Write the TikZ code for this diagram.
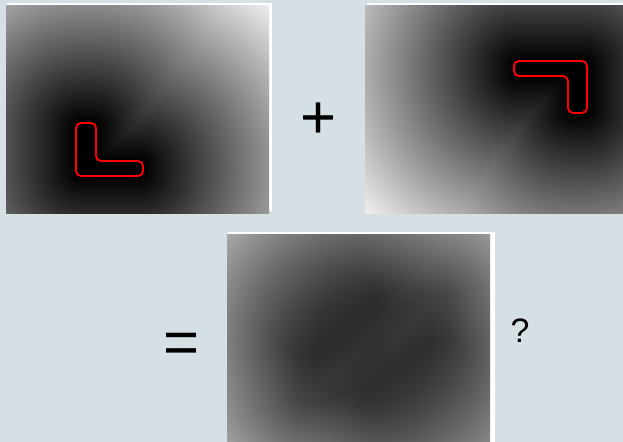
\documentclass[tikz,border=0pt]{standalone}
\usepackage{fontspec}
\setmainfont{Liberation Sans}
\definecolor{bg}{RGB}{214,224,228}
% distance from point (x y on stack) to a rounded rectangle: inner rect x0 x1 y0 y1, radius r
\def\rd#1#2#3#4#5{exch dup #1 exch sub exch #2 sub 2 copy lt {exch} if pop dup 0 lt {pop 0} if dup mul exch dup #3 exch sub exch #4 sub 2 copy lt {exch} if pop dup 0 lt {pop 0} if dup mul add sqrt #5 sub }
\def\dA{2 copy \rd{75}{87}{41}{86}{4} 3 1 roll \rd{75}{134}{41}{48}{4} 2 copy gt {exch} if pop dup 0 lt {pop 0} if }
\def\dB{2 copy \rd{154}{219}{141}{148}{4} 3 1 roll \rd{208}{219}{104}{148}{4} 2 copy gt {exch} if pop dup 0 lt {pop 0} if }
\pgfdeclarefunctionalshading{distA}{\pgfpoint{0bp}{0bp}}{\pgfpoint{264bp}{208bp}}{}{\dA 0.0046 mul dup 1 gt {pop 1} if dup dup }
\pgfdeclarefunctionalshading{distB}{\pgfpoint{0bp}{0bp}}{\pgfpoint{264bp}{208bp}}{}{\dB 0.0046 mul dup 1 gt {pop 1} if dup dup }
\pgfdeclarefunctionalshading{distS}{\pgfpoint{0bp}{0bp}}{\pgfpoint{264bp}{208bp}}{}{2 copy \dA 3 1 roll \dB add 0.0022 mul dup 1 gt {pop 1} if dup dup }
\tikzset{
  img/.style={inner sep=0pt, outer sep=0pt, anchor=north west},
  redline/.style={draw=red, line width=1.9bp, rounded corners=5bp},
  sym/.style={inner sep=0pt, anchor=base, text=black},
}
\begin{document}
\begin{tikzpicture}[x=1bp,y=-1bp]
\useasboundingbox (0,0) rectangle (623,442);
\fill[bg] (0,0) rectangle (623,442);
\clip (0,0) rectangle (623,442);
% white frames
\fill[white] (7,3) rectangle (272,211);
\fill[white] (367,3) rectangle (630,211);
\fill[white] (228,232) rectangle (495,442);
% images
\node[img] (imgA) at (5,5) {\pgfuseshading{distA}};
\node[img] (imgB) at (364,5) {\pgfuseshading{distB}};
\node[img] (imgS) at (226,234) {\pgfuseshading{distS}};
% red outlines
\draw[redline] (76,123) -- (96,123) -- (96,161) -- (143,161) -- (143,176) -- (76,176) -- cycle;
\draw[redline] (514,61) -- (587,61) -- (587,113) -- (568,113) -- (568,76) -- (514,76) -- cycle;
% symbols
\node[sym, font=\fontsize{62}{62}\selectfont] (plus) at (318.5,139) {+};
\node[sym, font=\fontsize{62}{62}\selectfont] (eq) at (181.5,363.5) {=};
\node[sym, font=\fontsize{34}{34}\selectfont] (q) at (520,342) {?};
\end{tikzpicture}
\end{document}
